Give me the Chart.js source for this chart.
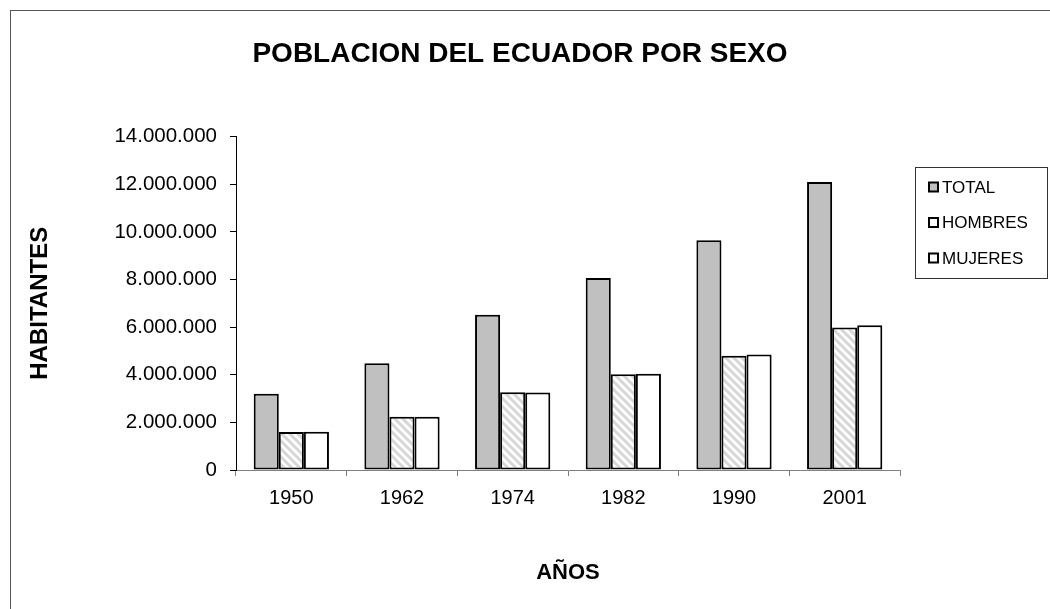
<!DOCTYPE html>
<html>
<head>
<meta charset="utf-8">
<script src="https://cdn.jsdelivr.net/npm/chart.js@4/dist/chart.umd.min.js"></script>
<style>
  html, body { margin: 0; padding: 0; background: #fff; overflow: hidden; }
  #wrap { width: 1050px; height: 609px; }
</style>
</head>
<body>
<div id="wrap"><canvas id="poblacion"></canvas></div>
<script>
// Datos
const years = ["1950", "1962", "1974", "1982", "1990", "2001"];
const total = [3200000, 4480000, 6520000, 8060000, 9650000, 12090000];
const hombres = [1600000, 2235000, 3265000, 4020000, 4795000, 5980000];
const mujeres = [1605000, 2240000, 3255000, 4040000, 4850000, 6080000];
const yTicks = [0, 2000000, 4000000, 6000000, 8000000, 10000000, 12000000, 14000000];

const FONT = "Arial, 'Liberation Sans', sans-serif";

// Hatched fill for HOMBRES
function stripePattern() {
  const c = document.createElement("canvas");
  c.width = 8;
  c.height = 8;
  const g = c.getContext("2d");
  g.fillStyle = "#ffffff";
  g.fillRect(0, 0, 8, 8);
  g.strokeStyle = "#d6d6d6";
  g.lineWidth = 3;
  g.beginPath();
  g.moveTo(-2, -2); g.lineTo(10, 10);
  g.moveTo(-6, 2); g.lineTo(6, 14);
  g.moveTo(2, -6); g.lineTo(14, 6);
  g.stroke();
  return g.createPattern(c, "repeat");
}

function formatMiles(v) {
  return String(v).replace(/\B(?=(\d{3})+(?!\d))/g, ".");
}

// Outer frame (only top/left edges are visible in the original)
const framePlugin = {
  id: "frame",
  beforeDraw(chart) {
    const ctx = chart.ctx;
    ctx.save();
    ctx.fillStyle = "#fff";
    ctx.fillRect(0, 0, chart.width, chart.height);
    ctx.strokeStyle = "#555";
    ctx.lineWidth = 1;
    ctx.strokeRect(10.5, 10.5, chart.width + 20, chart.height + 20);
    ctx.restore();
  },
};

// Boxed legend on the right
const boxLegend = {
  id: "boxLegend",
  afterDraw(chart) {
    const ctx = chart.ctx;
    const x = 915.5, y = 167.5, w = 132, h = 111;
    ctx.save();
    ctx.strokeStyle = "#333";
    ctx.lineWidth = 1;
    ctx.strokeRect(x, y, w, h);
    ctx.font = "17px " + FONT;
    ctx.textBaseline = "middle";
    chart.data.datasets.forEach((ds, i) => {
      const cy = 187 + i * 35.5;
      ctx.fillStyle = i === 0 ? ds.backgroundColor : "#fff";
      ctx.fillRect(929, cy - 4.5, 9, 9);
      ctx.strokeStyle = "#000";
      ctx.lineWidth = 2;
      ctx.strokeRect(929, cy - 4.5, 9, 9);
      ctx.fillStyle = "#000";
      ctx.fillText(ds.label, 942, cy + 1);
    });
    ctx.restore();
  },
};

const ctx = document.getElementById("poblacion").getContext("2d");
new Chart(ctx, {
  type: "bar",
  data: {
    labels: years,
    datasets: [
      {
        label: "TOTAL",
        data: total,
        backgroundColor: "#c0c0c0",
        borderColor: "#000",
        borderWidth: 2,
        borderSkipped: false,
      },
      {
        label: "HOMBRES",
        data: hombres,
        backgroundColor: stripePattern(),
        borderColor: "#000",
        borderWidth: 2,
        borderSkipped: false,
      },
      {
        label: "MUJERES",
        data: mujeres,
        backgroundColor: "#ffffff",
        borderColor: "#000",
        borderWidth: 2,
        borderSkipped: false,
      },
    ],
  },
  options: {
    responsive: true,
    maintainAspectRatio: false,
    animation: false,
    layout: {
      padding: { left: 0, right: 10, top: 0, bottom: 0 },
    },
    datasets: {
      bar: {
        categoryPercentage: 0.68,
        barPercentage: 1,
      },
    },
    plugins: {
      legend: { display: false },
      tooltip: { enabled: false },
      title: {
        display: true,
        text: "POBLACION DEL ECUADOR POR SEXO",
        color: "#000",
        font: { family: FONT, size: 28, weight: "bold" },
        padding: { top: 37, bottom: 66 },
      },
    },
    scales: {
      x: {
        offset: true,
        grid: {
          offset: true,
          drawOnChartArea: false,
          drawTicks: true,
          tickLength: 6,
          color: "#808080",
        },
        border: { color: "#808080", width: 1 },
        ticks: {
          color: "#000",
          font: { family: FONT, size: 20 },
          padding: 10,
          maxRotation: 0,
        },
        title: {
          display: true,
          text: "AÑOS",
          color: "#000",
          font: { family: FONT, size: 22, weight: "bold" },
          padding: { top: 0, bottom: 23 },
        },
        afterFit(scale) {
          scale.height = 139;
        },
      },
      y: {
        min: 0,
        max: 14000000,
        grid: {
          drawOnChartArea: false,
          drawTicks: true,
          tickLength: 6,
          color: "#000",
        },
        border: { color: "#000", width: 1 },
        afterBuildTicks(scale) {
          scale.ticks = yTicks.map((v) => ({ value: v }));
        },
        ticks: {
          color: "#000",
          font: { family: FONT, size: 20.5 },
          padding: 13,
          callback: (v) => formatMiles(v),
        },
        title: {
          display: true,
          text: "HABITANTES",
          color: "#000",
          font: { family: FONT, size: 24, weight: "bold" },
          padding: { top: 26, bottom: 0 },
        },
        afterFit(scale) {
          scale.width = 236;
        },
      },
      // empty strip on the right, reserves room for the legend box
      legendSpace: {
        type: "linear",
        position: "right",
        display: true,
        grid: { display: false, drawTicks: false },
        border: { display: false },
        ticks: { display: false },
        afterFit(scale) {
          scale.width = 140;
        },
      },
    },
  },
  plugins: [framePlugin, boxLegend],
});
</script>
</body>
</html>
